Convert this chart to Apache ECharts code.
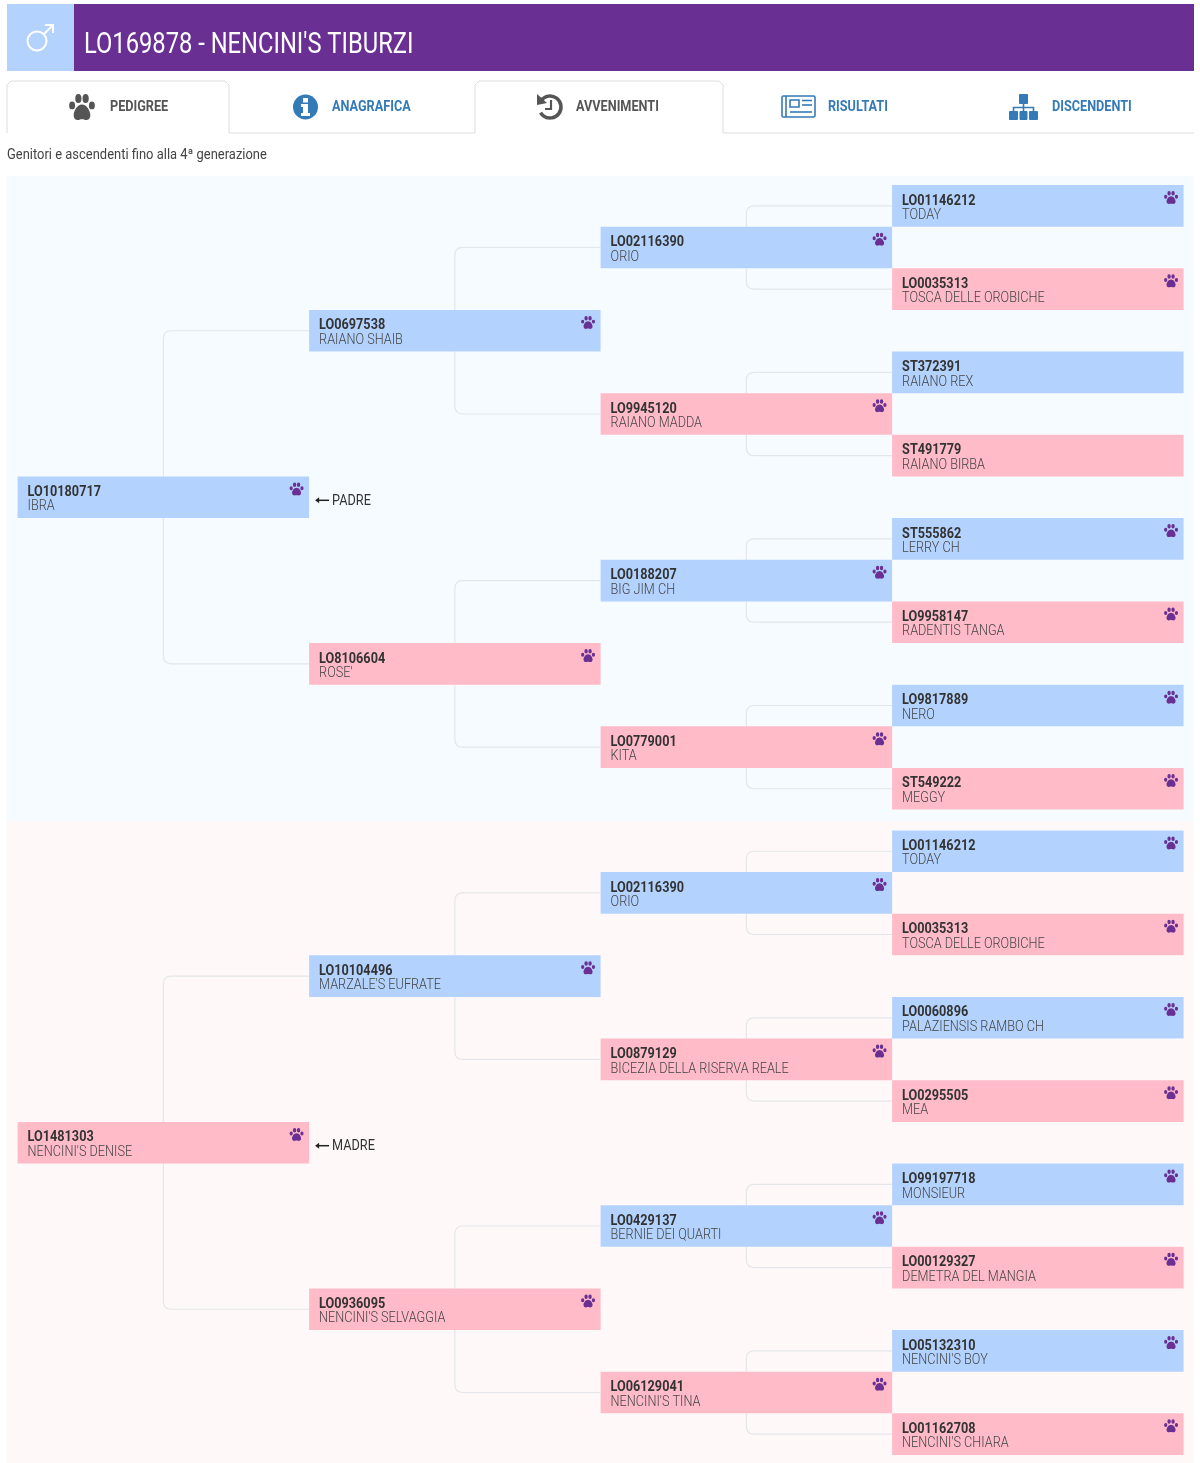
<!DOCTYPE html>
<html>
<head>
<meta charset="utf-8">
<title>LO169878 - NENCINI'S TIBURZI</title>
<style>
  html, body { margin: 0; padding: 0; background: #fff; overflow: hidden; }
  #chart { width: 1200px; height: 1463px; }
</style>
<script src="https://cdn.jsdelivr.net/npm/echarts@6/dist/echarts.min.js"></script>
</head>
<body>
<div id="chart"></div>
<script>
// each side of the pedigree is listed top to bottom, as the rows appear on the page
const padreIds = ['LO01146212', 'LO02116390', 'LO0035313', 'LO0697538', 'ST372391', 'LO9945120', 'ST491779', 'LO10180717',
  'ST555862', 'LO0188207', 'LO9958147', 'LO8106604', 'LO9817889', 'LO0779001', 'ST549222'];
const padreNames = ['TODAY', 'ORIO', 'TOSCA DELLE OROBICHE', 'RAIANO SHAIB', 'RAIANO REX', 'RAIANO MADDA', 'RAIANO BIRBA', 'IBRA',
  'LERRY CH', 'BIG JIM CH', 'RADENTIS TANGA', "ROSE'", 'NERO', 'KITA', 'MEGGY'];
const padreSex = ['M', 'M', 'F', 'M', 'M', 'F', 'F', 'M', 'M', 'M', 'F', 'F', 'M', 'F', 'F'];
const padrePaw = [1, 1, 1, 1, 0, 1, 0, 1, 1, 1, 1, 1, 1, 1, 1];

const madreIds = ['LO01146212', 'LO02116390', 'LO0035313', 'LO10104496', 'LO0060896', 'LO0879129', 'LO0295505', 'LO1481303',
  'LO99197718', 'LO0429137', 'LO00129327', 'LO0936095', 'LO05132310', 'LO06129041', 'LO01162708'];
const madreNames = ['TODAY', 'ORIO', 'TOSCA DELLE OROBICHE', "MARZALE'S EUFRATE", "PALAZIENSIS RAMBO CH", 'BICEZIA DELLA RISERVA REALE', 'MEA', "NENCINI'S DENISE",
  'MONSIEUR', 'BERNIE DEI QUARTI', 'DEMETRA DEL MANGIA', "NENCINI'S SELVAGGIA", "NENCINI'S BOY", "NENCINI'S TINA", "NENCINI'S CHIARA"];
const madreSex = ['M', 'M', 'F', 'M', 'M', 'F', 'F', 'F', 'M', 'M', 'F', 'F', 'M', 'F', 'F'];
const madrePaw = [1, 1, 1, 1, 1, 1, 1, 1, 1, 1, 1, 1, 1, 1, 1];

const title = "LO169878 - NENCINI'S TIBURZI";
const subtitle = 'Genitori e ascendenti fino alla 4ª generazione';
const tabLabels = ['PEDIGREE', 'ANAGRAFICA', 'AVVENIMENTI', 'RISULTATI', 'DISCENDENTI'];
const rootRoles = ['PADRE', 'MADRE'];

const MADRE_OFFSET = 15.5; // rows between the two halves
const SQUEEZE = 0.905;     // the screenshot is a bit narrower than plain Roboto

const COL_BLUE = '#b3d3fe';
const COL_PINK = '#ffbbc8';
const COL_PURPLE = '#692f92';
const COL_LINK = '#e4e6e9';
const COL_TABTEXT = '#555555';
const COL_TABLINK = '#337ab7';

function ell(cx, cy, rx, ry) {
  return `M${cx - rx} ${cy}A${rx} ${ry} 0 1 1 ${cx + rx} ${cy}A${rx} ${ry} 0 1 1 ${cx - rx} ${cy}Z`;
}
const PAW = 'M50 40C32 40 18 64 18 80C18 96 31 100 40 97C46 95 54 95 60 97C69 100 82 96 82 80C82 64 68 40 50 40Z'
  + ell(36, 17, 12, 17) + ell(64, 17, 12, 17) + ell(12, 43, 11.5, 15) + ell(88, 43, 11.5, 15);

// the graphic component has no plain 'path' type, so the tab icon gets a registered shape
echarts.graphic.registerShape('pawShape', echarts.graphic.extendPath(PAW, {}));

// the row of a node tells its generation: trailing ones of the row index
function levelOf(i) {
  let l = 0;
  while (i & 1) { l++; i >>= 1; }
  return l;
}

const nodes = [];
const links = [];
const paws = [];
function addSide(ids, names, sex, paw, offset, role) {
  ids.forEach((id, i) => {
    const level = levelOf(i);
    const gen = 3 - level;
    nodes.push([gen, i + offset, id, names[i], sex[i], level === 3 ? role : '']);
    if (paw[i]) paws.push([gen + 0.957, i + offset + 0.3]);
    if (level > 0) {
      const step = 1 << (level - 1);
      links.push([gen + 0.5, i + offset, gen + 1, i - step + offset + 0.5]);
      links.push([gen + 0.5, i + offset + 1, gen + 1, i + step + offset + 0.5]);
    }
  });
}
addSide(padreIds, padreNames, padreSex, padrePaw, 0, rootRoles[0]);
addSide(madreIds, madreNames, madreSex, madrePaw, MADRE_OFFSET, rootRoles[1]);

function txt(x, y, text, font, fill, sx) {
  return {
    type: 'text', x: x, y: y, scaleX: sx === undefined ? SQUEEZE : sx, silent: true,
    style: { text: text, font: font, fill: fill, verticalAlign: 'middle', textVerticalAlign: 'middle' }
  };
}

function renderLink(params, api) {
  const a = api.coord([api.value(0), api.value(1)]);
  const b = api.coord([api.value(2), api.value(3)]);
  const r = 8;
  const dir = b[1] < a[1] ? 1 : -1; // going up or down from the parent box
  const d = `M${a[0]} ${a[1]}L${a[0]} ${b[1] + dir * r}Q${a[0]} ${b[1]} ${a[0] + r} ${b[1]}L${b[0]} ${b[1]}`;
  return {
    type: 'path',
    shape: { pathData: d, layout: 'cover', x: a[0], y: Math.min(a[1], b[1]), width: b[0] - a[0], height: Math.abs(b[1] - a[1]) },
    style: { fill: 'none', stroke: COL_LINK, lineWidth: 1.2 }
  };
}

function renderNode(params, api) {
  const gen = api.value(0);
  const row = api.value(1);
  const n = nodes[params.dataIndex];
  const tl = api.coord([gen, row]);
  const br = api.coord([gen + 1, row + 1]);
  const children = [
    { type: 'rect', shape: { x: tl[0], y: tl[1], width: br[0] - tl[0], height: br[1] - tl[1] }, style: { fill: n[4] === 'M' ? COL_BLUE : COL_PINK } },
    txt(tl[0] + 10, tl[1] + 16, n[2], '700 14px Roboto', '#333333'),
    txt(tl[0] + 10, tl[1] + 30.5, n[3], '300 14px Roboto', '#444444')
  ];
  if (n[5]) {
    const cy = (tl[1] + br[1]) / 2 + 3;
    children.push({ type: 'polygon', shape: { points: [[br[0] + 6, cy], [br[0] + 10, cy - 3], [br[0] + 10, cy + 3]] }, style: { fill: '#222' } });
    children.push({ type: 'line', shape: { x1: br[0] + 8, y1: cy, x2: br[0] + 20, y2: cy }, style: { stroke: '#222', lineWidth: 1.5 } });
    children.push(txt(br[0] + 23, cy + 1, n[5], '400 14px Roboto', '#333333'));
  }
  return { type: 'group', children: children };
}

// page furniture around the tree
const chrome = [
  { type: 'rect', shape: { x: 7, y: 176, width: 1187, height: 645 }, style: { fill: '#f6fbff' } },
  { type: 'rect', shape: { x: 7, y: 821, width: 1187, height: 642 }, style: { fill: '#fef8f9' } },
  { type: 'rect', shape: { x: 7, y: 4, width: 67, height: 67 }, style: { fill: COL_BLUE } },
  { type: 'rect', shape: { x: 74, y: 4, width: 1120, height: 67 }, style: { fill: COL_PURPLE } },
  // male sign
  { type: 'circle', shape: { cx: 37, cy: 41, r: 9.5 }, style: { fill: 'none', stroke: '#fff', lineWidth: 2 } },
  { type: 'polyline', shape: { points: [[44, 34], [53, 25]] }, style: { fill: 'none', stroke: '#fff', lineWidth: 2 } },
  { type: 'polyline', shape: { points: [[45, 25], [53, 25], [53, 33]] }, style: { fill: 'none', stroke: '#fff', lineWidth: 2 } },
  txt(84, 45.5, title, '400 29px Roboto', '#ffffff', 0.818),
  // tab outlines
  { type: 'polyline', shape: { points: [[7, 133], [7, 85], [11, 81], [225, 81], [229, 85], [229, 133], [475, 133], [475, 85], [479, 81], [719, 81], [723, 85], [723, 133], [1194, 133]] },
    style: { fill: 'none', stroke: '#dddddd', lineWidth: 1 } },
  { type: 'pawShape', x: 69, y: 94, scaleX: 0.26, scaleY: 0.265, style: { fill: COL_TABTEXT } },
  txt(110, 107, tabLabels[0], '700 14px Roboto', COL_TABTEXT),
  // info
  { type: 'circle', shape: { cx: 305.5, cy: 107, r: 12.5 }, style: { fill: COL_TABLINK } },
  { type: 'rect', shape: { x: 303, y: 98, width: 5, height: 4.5 }, style: { fill: '#fff' } },
  { type: 'polygon', shape: { points: [[301, 104], [308, 104], [308, 113], [310, 113], [310, 116], [301, 116], [301, 113], [303, 113], [303, 107], [301, 107]] }, style: { fill: '#fff' } },
  txt(332, 107, tabLabels[1], '700 14px Roboto', COL_TABLINK),
  // history
  { type: 'arc', shape: { cx: 550, cy: 107, r: 11, startAngle: -2.5, endAngle: 2.6, clockwise: true }, style: { fill: 'none', stroke: COL_TABTEXT, lineWidth: 3.5 } },
  { type: 'polygon', shape: { points: [[537, 94], [547, 103], [537, 105]] }, style: { fill: COL_TABTEXT } },
  { type: 'polyline', shape: { points: [[551, 100], [551, 109], [545, 109]] }, style: { fill: 'none', stroke: COL_TABTEXT, lineWidth: 2.2 } },
  txt(576, 107, tabLabels[2], '700 14px Roboto', COL_TABTEXT),
  // newspaper
  { type: 'rect', shape: { x: 782, y: 96, width: 33, height: 21, r: 1.5 }, style: { fill: 'none', stroke: COL_TABLINK, lineWidth: 1.6 } },
  { type: 'line', shape: { x1: 786, y1: 96, x2: 786, y2: 117 }, style: { stroke: COL_TABLINK, lineWidth: 1.6 } },
  { type: 'rect', shape: { x: 790, y: 100, width: 9, height: 7 }, style: { fill: 'none', stroke: COL_TABLINK, lineWidth: 1.6 } },
  { type: 'line', shape: { x1: 802, y1: 100.5, x2: 812, y2: 100.5 }, style: { stroke: COL_TABLINK, lineWidth: 1.6 } },
  { type: 'line', shape: { x1: 802, y1: 105, x2: 812, y2: 105 }, style: { stroke: COL_TABLINK, lineWidth: 1.6 } },
  { type: 'line', shape: { x1: 790, y1: 112, x2: 812, y2: 112 }, style: { stroke: COL_TABLINK, lineWidth: 1.6 } },
  txt(828, 107, tabLabels[3], '700 14px Roboto', COL_TABLINK),
  // sitemap
  { type: 'rect', shape: { x: 1019, y: 94, width: 9, height: 10, r: 1 }, style: { fill: COL_TABLINK } },
  { type: 'rect', shape: { x: 1009, y: 111, width: 9, height: 9, r: 1 }, style: { fill: COL_TABLINK } },
  { type: 'rect', shape: { x: 1019.5, y: 111, width: 8, height: 9, r: 1 }, style: { fill: COL_TABLINK } },
  { type: 'rect', shape: { x: 1029, y: 111, width: 9, height: 9, r: 1 }, style: { fill: COL_TABLINK } },
  { type: 'polyline', shape: { points: [[1013.5, 111], [1013.5, 107.5], [1033.5, 107.5], [1033.5, 111]] }, style: { fill: 'none', stroke: COL_TABLINK, lineWidth: 1.6 } },
  { type: 'line', shape: { x1: 1023.5, y1: 104, x2: 1023.5, y2: 111 }, style: { stroke: COL_TABLINK, lineWidth: 1.6 } },
  txt(1052, 107, tabLabels[4], '700 14px Roboto', COL_TABLINK),
  txt(7, 155, subtitle, '400 14px Roboto', '#444444', 0.925)
];

const myChart = echarts.init(document.getElementById('chart'), null, { renderer: 'canvas' });

myChart.setOption({
  animation: false,
  backgroundColor: '#ffffff',
  tooltip: { show: false },
  graphic: { elements: chrome.map(e => Object.assign({ z: 1 }, e)) },
  grid: { left: 17.6, right: 16.4, top: 185, height: 1270 },
  xAxis: { type: 'value', min: 0, max: 4, show: false },
  yAxis: { type: 'value', min: 0, max: 30.5, inverse: true, show: false },
  series: [
    { type: 'custom', name: 'links', coordinateSystem: 'cartesian2d', data: links, renderItem: renderLink, z: 2, silent: true },
    { type: 'custom', name: 'nodes', coordinateSystem: 'cartesian2d', data: nodes.map(n => n.slice(0, 2)), renderItem: renderNode, z: 3, silent: true },
    { type: 'scatter', name: 'paws', data: paws, symbol: 'path://' + PAW, symbolSize: [14, 13], itemStyle: { color: COL_PURPLE, opacity: 1 }, z: 4, silent: true }
  ]
});
</script>
</body>
</html>
